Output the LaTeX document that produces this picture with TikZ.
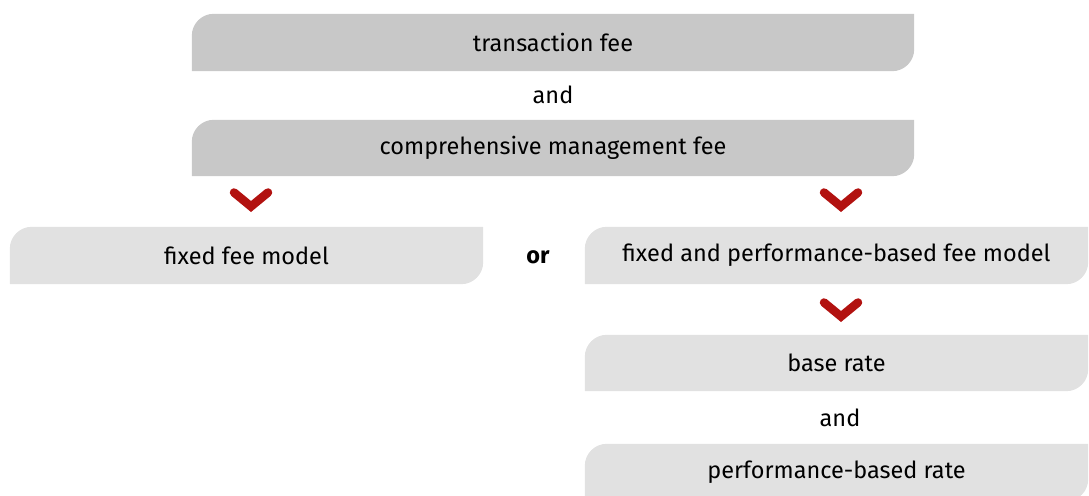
\documentclass[tikz,border=0pt]{standalone}
\usepackage{fontspec}
\setmainfont{Fira Sans}
\usetikzlibrary{backgrounds}

\definecolor{darkbox}{RGB}{200,200,200}
\definecolor{lightbox}{RGB}{225,225,225}
\definecolor{chevred}{RGB}{178,18,16}

\begin{document}
\begin{tikzpicture}[x=1pt, y=1pt, font=\fontsize{23.5}{28}\selectfont]
            \tikzset{feebox/.style = {minimum height=57pt, inner sep=0pt, text=black},
                     tab/.style = {fill=#1},
                     chevline/.style = {draw=chevred, line width=8.5pt, line cap=round, line join=miter},
                     chevron/.pic = {\draw[chevline] (-17,7) -- (0,-7) -- (17,7);}}

            \clip (0,0) rectangle (1089,495);

            \node[feebox, minimum width=722pt] (trans) at (553,452.5) {transaction fee};
            \node (and1) at (553,400) {and};
            \node[feebox, minimum width=722pt, minimum height=56pt] (mgmt) at (553,347) {comprehensive management fee};

            \node[feebox, minimum width=473pt] (fixed) at (246.5,239.5) {fixed fee model};
            \node[font=\fontsize{23.5}{28}\selectfont\bfseries] (or) at (538,238) {or};
            \node[feebox, minimum width=503pt] (perf) at (836.5,239.5) {fixed and performance-based fee model};

            \node[feebox, minimum width=503pt, minimum height=56pt] (base) at (836.5,132) {base rate};
            \node (and2) at (840,77) {and};
            \node[feebox, minimum width=503pt] (perfrate) at (836.5,22.5) {performance-based rate};

            % tabs behind the labels
            \begin{scope}[on background layer]
                \foreach \n/\c in {trans/darkbox, mgmt/darkbox, fixed/lightbox, perf/lightbox, base/lightbox, perfrate/lightbox}
                    \fill[tab=\c] (\n.south west) -- ([yshift=-22pt]\n.north west) arc[start angle=180, end angle=90, radius=22pt]
                        -- (\n.north east) -- ([yshift=22pt]\n.south east) arc[start angle=0, end angle=-90, radius=22pt] -- cycle;
            \end{scope}

            \pic at (251,295.5) {chevron};
            \pic at (841,295.5) {chevron};
            \pic at (841,185.5) {chevron};
        \end{tikzpicture}
\end{document}
